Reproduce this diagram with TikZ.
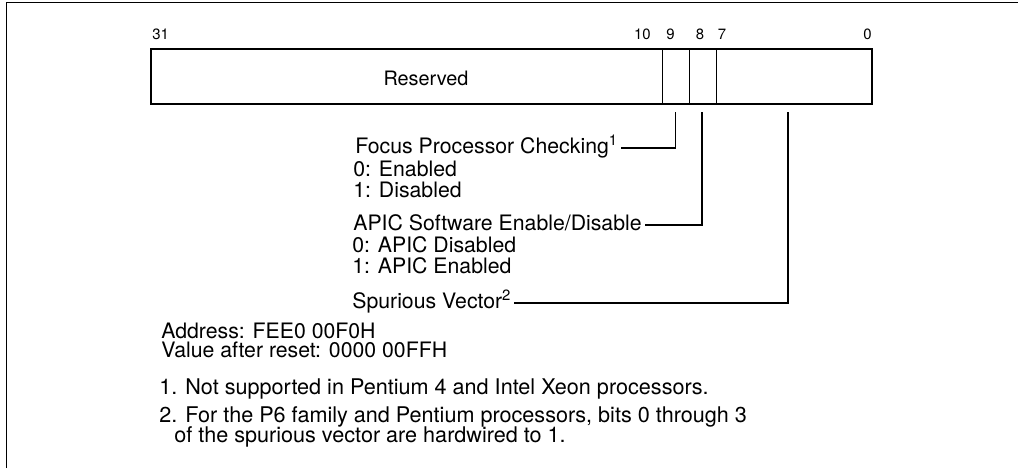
\documentclass[tikz,border=0pt]{standalone}
\usepackage{fontspec}
\setmainfont{TeX Gyre Heros}
\tikzset{
  regline/.style={
    line width = 1.1pt
  },
  divider/.style={
    line width = 0.5pt
  },
  bitnum/.style={
    inner sep = 0pt,
    anchor = base,
    font = \fontsize{8.5}{10}\selectfont
  },
  desc/.style={
    inner sep = 0pt,
    anchor = base west,
    font = \fontsize{12.1}{12}\selectfont
  },
  footnote/.style={
    desc,
    font = \fontsize{12.3}{12}\selectfont
  },
  link/.style={
    line width = 1.1pt,
    shorten > = 1.5pt
  }
}

\begin{document}
\begin{tikzpicture}[x=0.02cm,y=-0.02cm]
            \useasboundingbox (0,0) rectangle (1018,468);
            \draw[regline] (6.5,468) |- (1018,2.5);
            % register
            \draw[regline] (151,49) rectangle (872,104);
            \foreach \x in {662,689,716}{
                    \draw[divider] (\x,49) -- (\x,104);
                }
            \node[desc, anchor=base, font=\fontsize{11.3}{12}\selectfont] (res) at (426,85) {Reserved};
            \node[bitnum, anchor=base west] (bit31) at (152,39) {31};
            \node[bitnum, anchor=base east] (bit10) at (651,39) {10};
            \foreach \x/\b in {670.5/9,700/8,722/7}{
                    \node[bitnum] (bit\b) at (\x,39) {\b};
                }
            \node[bitnum, anchor=base east] (bit0) at (872,39) {0};
            % fields
            \node[desc] (focus) at (355,153) {Focus Processor Checking\textsuperscript{1}};
            \node[desc] (focus0) at (353,176) {0: Enabled};
            \node[desc] (focus1) at (353,197) {1: Disabled};
            \node[desc] (apic) at (353,230) {APIC Software Enable/Disable};
            \node[desc] (apic0) at (352,252) {0: APIC Disabled};
            \node[desc] (apic1) at (352,273) {1: APIC Enabled};
            \node[desc] (spur) at (352,308) {Spurious Vector\textsuperscript{2}};
            \coordinate (b9) at (675.5,112);
            \coordinate (b8) at (702,112);
            \coordinate (b0) at (788,112);
            \draw[link] (b9) |- (focus.mid east);
            \draw[link] (b8) |- (apic.mid east);
            \draw[link] (b0) |- (spur.mid east);
            % notes
            \node[desc] (addr) at (161,338) {Address: FEE0 00F0H};
            \node[desc] (reset) at (161,357) {Value after reset: 0000 00FFH};
            \node[footnote] (note1) at (159,394) {1. Not supported in Pentium 4 and Intel Xeon processors.};
            \node[footnote] (note2) at (159,422) {2. For the P6 family and Pentium processors, bits 0 through 3};
            \node[footnote] (note2b) at (174,442) {of the spurious vector are hardwired to 1.};
        \end{tikzpicture}
\end{document}
